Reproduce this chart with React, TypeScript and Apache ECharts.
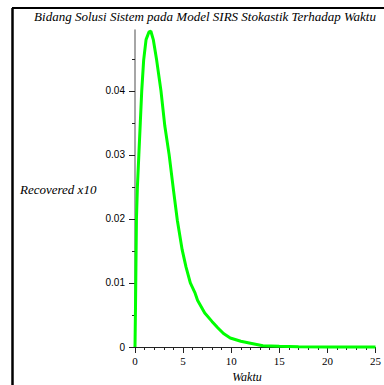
import React, { useEffect, useRef } from "react";
import * as echarts from "echarts";

const titleText = "Bidang Solusi Sistem pada Model SIRS Stokastik Terhadap Waktu";
const yName = "Recovered x10";
const xName = "Waktu";
const waktu = [0, 0.05, 0.1, 0.15, 0.25, 0.4, 0.55, 0.7, 0.9, 1.15, 1.45, 1.65, 1.9, 2.25, 2.7, 3.1, 3.55, 4.0, 4.4, 4.9, 5.3, 5.75, 6.25, 6.5, 7.25, 8.0, 8.6, 9.2, 9.9, 11, 12, 13.3, 15, 17, 20, 25];
const recovered = [0, 0.006, 0.013, 0.02, 0.025, 0.03, 0.035, 0.04, 0.0448, 0.048, 0.0492, 0.0493, 0.048, 0.0448, 0.04, 0.0345, 0.03, 0.0245, 0.0198, 0.0152, 0.0125, 0.01, 0.0084, 0.0073, 0.0053, 0.004, 0.003, 0.0021, 0.0014, 0.0009, 0.0006, 0.0002, 0.0001, 0.00004, 0, 0];
const yMajorTicks = [0, 0.01, 0.02, 0.03, 0.04];
const yMinorTicks = [0.005, 0.015, 0.025, 0.035, 0.045];

export default function App() {
  const ref = useRef<HTMLDivElement>(null);
  useEffect(() => {
    const chart = echarts.init(ref.current!, null, { renderer: "svg" });
    chart.setOption({
      animation: false,
      backgroundColor: "#fff",
      grid: { left: 135, right: 2, top: 30, bottom: 38 },
      xAxis: {
        type: "value",
        min: 0,
        max: 25,
        interval: 5,
        splitLine: { show: false },
        axisLine: { lineStyle: { color: "#222", width: 1 } },
        axisTick: { length: 6, lineStyle: { color: "#222" } },
        minorTick: { show: true, splitNumber: 5, length: 3, lineStyle: { color: "#222" } },
        axisLabel: { fontFamily: "Liberation Serif", fontSize: 11, color: "#000", margin: 8 },
      },
      yAxis: [
        {
          type: "value",
          min: 0,
          max: 0.0495,
          interval: 0.01,
          splitLine: { show: false },
          axisLine: { show: true, lineStyle: { color: "#888", width: 1.5 } },
          axisTick: { show: true, length: 6, customValues: yMajorTicks, lineStyle: { color: "#222" } },
          axisLabel: {
            showMaxLabel: false,
            fontFamily: "Liberation Sans",
            fontSize: 10,
            color: "#000",
            margin: 10,
            formatter: (v: number) => (v === 0 ? "0" : v.toFixed(2)),
          },
        },
        {
          type: "value",
          position: "left",
          min: 0,
          max: 0.0495,
          interval: 0.01,
          splitLine: { show: false },
          axisLine: { show: false },
          axisTick: { show: true, length: 3, customValues: yMinorTicks, lineStyle: { color: "#222" } },
          axisLabel: { show: false },
        },
      ],
      series: [
        {
          type: "line",
          yAxisIndex: 0,
          data: waktu.map((x, i) => [x, recovered[i]]),
          showSymbol: false,
          symbol: "none",
          lineStyle: { color: "#00ff00", width: 3 },
          clip: false,
        },
      ],
      graphic: [
        { type: "line", shape: { x1: 12, y1: 8, x2: 384, y2: 8 }, style: { stroke: "#000", lineWidth: 2 } },
        { type: "line", shape: { x1: 12.5, y1: 8, x2: 12.5, y2: 385 }, style: { stroke: "#000", lineWidth: 2.5 } },
        {
          type: "text",
          x: 205,
          y: 16,
          style: { text: titleText, font: "italic 13px 'Liberation Serif'", fill: "#000", textAlign: "center", textVerticalAlign: "middle" },
        },
        {
          type: "text",
          x: 20,
          y: 189,
          style: { text: yName, font: "italic 13px 'Liberation Serif'", fill: "#000", textAlign: "left", textVerticalAlign: "middle" },
        },
        {
          type: "text",
          x: 247,
          y: 377,
          style: { text: xName, font: "italic 12px 'Liberation Serif'", fill: "#000", textAlign: "center", textVerticalAlign: "middle" },
        },
      ],
    });
    return () => chart.dispose();
  }, []);
  return <div ref={ref} style={{ position: "fixed", left: 0, top: 0, width: 384, height: 385 }} />;
}
